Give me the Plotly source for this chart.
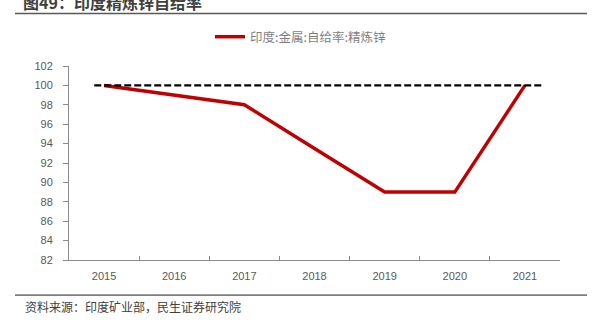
import plotly.graph_objects as go

# India refined zinc self-sufficiency ratio (%)
years = ["2015", "2016", "2017", "2018", "2019", "2020", "2021"]
self_sufficiency = [100, 99, 98, 93.5, 89, 89, 100]
full_supply_level = 100

series_name = "印度:金属:自给率:精炼锌"
title_text = "图49：印度精炼锌自给率"
source_text = "资料来源：印度矿业部，民生证券研究院"

W, H = 593, 330
L, R, T, B = 69, 33, 66, 69.5
plot_w = W - L - R
plot_h = H - T - B


def px_x(px):
    return (px - L) / plot_w


def px_y(py):
    return (H - B - py) / plot_h


cjk = "Noto Sans CJK SC"
num_font = "Liberation Sans"
axis_grey = "#8c8c8c"
label_grey = "#595959"

fig = go.Figure()

fig.add_trace(go.Scatter(
    x=years,
    y=self_sufficiency,
    mode="lines",
    name=series_name,
    line=dict(color="#C00000", width=3.5),
))

# 100% reference line
fig.add_shape(
    type="line", xref="x", yref="y",
    x0=-0.14, x1=6.26, y0=full_supply_level, y1=full_supply_level,
    line=dict(color="black", width=2.2, dash="7px,3px"),
)

# title rule and footer rule
fig.add_shape(type="line", xref="paper", yref="paper",
              x0=px_x(15), x1=px_x(587), y0=px_y(13.3), y1=px_y(13.3),
              line=dict(color="#595959", width=1.6))
fig.add_shape(type="line", xref="paper", yref="paper",
              x0=px_x(15), x1=px_x(587), y0=px_y(295.7), y1=px_y(295.7),
              line=dict(color="#7f7f7f", width=1.6))

fig.add_annotation(
    text=f"<b>{title_text}</b>", xref="paper", yref="paper",
    x=px_x(21), y=px_y(2), xanchor="left", yanchor="middle",
    showarrow=False, font=dict(family=cjk, size=16, color="#3f3f3f"),
)
fig.add_annotation(
    text=source_text, xref="paper", yref="paper",
    x=px_x(23), y=px_y(307), xanchor="left", yanchor="middle",
    showarrow=False, font=dict(family=cjk, size=12, color="#404040"),
)

fig.update_layout(
    width=W, height=H,
    margin=dict(l=L, r=R, t=T, b=B),
    paper_bgcolor="white",
    plot_bgcolor="white",
    showlegend=True,
    legend=dict(
        orientation="h",
        x=px_x(210), y=px_y(37), xanchor="left", yanchor="middle",
        font=dict(family=cjk, size=12.5, color="#7f7f7f"),
        bgcolor="rgba(0,0,0,0)",
    ),
)

fig.update_xaxes(
    type="category",
    categoryorder="array", categoryarray=years,
    range=[-0.5, 6.5],
    showline=True, linecolor=axis_grey, linewidth=1,
    ticks="inside", ticklen=4, tickcolor=axis_grey,
    tickson="boundaries",
    showgrid=False, zeroline=False,
    ticklabelstandoff=6,
    tickfont=dict(family=num_font, size=11, color=label_grey),
)
fig.update_yaxes(
    range=[82, 102], dtick=2, tick0=82,
    showline=True, linecolor=axis_grey, linewidth=1,
    ticks="outside", ticklen=5, tickcolor=axis_grey,
    showgrid=False, zeroline=False,
    ticklabelstandoff=8,
    tickfont=dict(family=num_font, size=11, color=label_grey),
)

fig.write_html("out.html")
